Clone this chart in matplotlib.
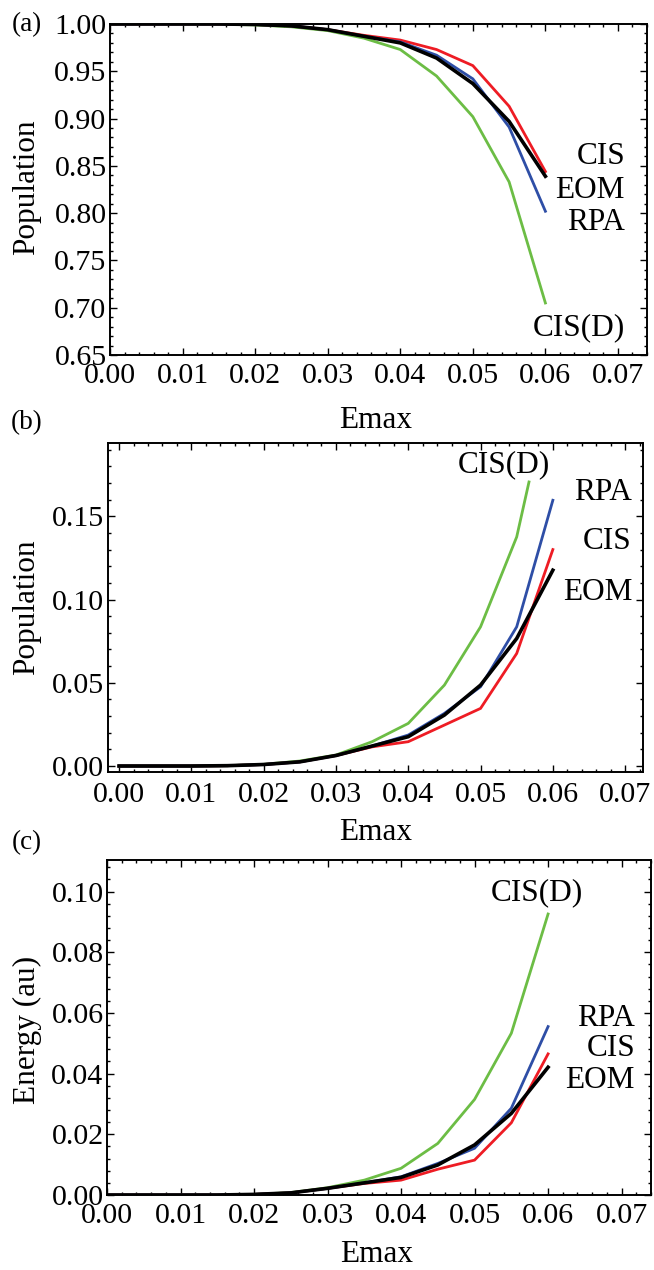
import numpy as np
import matplotlib.pyplot as plt
from matplotlib.ticker import MultipleLocator, FormatStrFormatter

plt.rcParams['font.family'] = ['Liberation Serif', 'DejaVu Serif']

# field amplitudes
emax = [0.0, 0.005, 0.01, 0.015, 0.02, 0.025, 0.03, 0.035, 0.04, 0.045, 0.05, 0.055, 0.06]
emax_cisd_b = [0.0, 0.005, 0.01, 0.015, 0.02, 0.025, 0.03, 0.035, 0.04, 0.045, 0.05, 0.055, 0.0567]

# (a) ground state population
cis_a = [1, 1, 1, 1, 0.9995, 0.998, 0.994, 0.988, 0.983, 0.973, 0.956, 0.913, 0.844]
eom_a = [1, 1, 1, 1, 0.9995, 0.998, 0.994, 0.987, 0.980, 0.964, 0.937, 0.897, 0.839]
rpa_a = [1, 1, 1, 1, 0.9995, 0.998, 0.994, 0.987, 0.981, 0.967, 0.942, 0.891, 0.802]
cisd_a = [1, 1, 1, 0.9998, 0.999, 0.997, 0.993, 0.985, 0.973, 0.945, 0.902, 0.833, 0.705]

# (b) excited state population
cis_b = [0, 0, 0, 0.0002, 0.0009, 0.0025, 0.0063, 0.0115, 0.0146, 0.0246, 0.0346, 0.0676, 0.130]
eom_b = [0, 0, 0, 0.0002, 0.0009, 0.0025, 0.0063, 0.0120, 0.0176, 0.0306, 0.0486, 0.0766, 0.1176]
rpa_b = [0, 0, 0, 0.0002, 0.0009, 0.0025, 0.0063, 0.0120, 0.0186, 0.0316, 0.0476, 0.0836, 0.1596]
cisd_b = [0, 0, 0, 0.0002, 0.0010, 0.0030, 0.0066, 0.0146, 0.0256, 0.0486, 0.0836, 0.1376, 0.1706]

# (c) absorbed energy
cis_c = [0, 0, 0, 0, 0.0002, 0.0007, 0.0022, 0.0038, 0.0049, 0.0085, 0.0115, 0.0238, 0.0465]
eom_c = [0, 0, 0, 0, 0.0002, 0.0007, 0.0022, 0.0040, 0.0058, 0.0099, 0.0165, 0.0269, 0.0421]
rpa_c = [0, 0, 0, 0, 0.0002, 0.0007, 0.0022, 0.0040, 0.0060, 0.0104, 0.0154, 0.0286, 0.0555]
cisd_c = [0, 0, 0, 0, 0.0002, 0.0008, 0.0024, 0.0049, 0.0088, 0.0170, 0.0315, 0.0533, 0.0926]

RED = '#ee1c24'
BLUE = '#2e4ea6'
GREEN = '#6cbd45'
BLACK = '#000000'

W, H = 654, 1270
fig = plt.figure(figsize=(W / 100, H / 100), dpi=100)


def px_axes(left, top, right, bottom):
    return fig.add_axes([left / W, 1 - bottom / H, (right - left) / W, (bottom - top) / H])


def ftext(x, y, s, **kw):
    fig.text(x / W, 1 - y / H, s, **kw)


def style(ax, xlim, ylim, ymajor, yminor, xpad):
    ax.set_xlim(*xlim)
    ax.set_ylim(*ylim)
    ax.xaxis.set_major_locator(MultipleLocator(0.01))
    ax.xaxis.set_minor_locator(MultipleLocator(0.002))
    ax.yaxis.set_major_locator(MultipleLocator(ymajor))
    ax.yaxis.set_minor_locator(MultipleLocator(yminor))
    ax.xaxis.set_major_formatter(FormatStrFormatter('%.2f'))
    ax.yaxis.set_major_formatter(FormatStrFormatter('%.2f'))
    ax.tick_params(which='both', direction='in', top=True, right=True, width=1.0)
    ax.tick_params(which='major', length=5, labelsize=21.5)
    ax.tick_params(which='minor', length=2.5)
    ax.tick_params(axis='x', pad=xpad)
    ax.tick_params(axis='y', pad=2.5)
    for sp in ax.spines.values():
        sp.set_linewidth(1.4)


def curves(ax, series):
    for xs, ys, c, lw in series:
        ax.plot(xs, ys, color=c, lw=lw, solid_joinstyle='miter')


lab = dict(fontsize=22.5, ha='right', va='center')
axlab = dict(fontsize=22.5, ha='center', va='center')

# (a)
ax = px_axes(110, 24, 647, 355)
style(ax, (0, 0.074), (0.65, 1.0), 0.05, 0.01, 6)
curves(ax, [(emax, cisd_a, GREEN, 2.0), (emax, cis_a, RED, 2.0),
            (emax, rpa_a, BLUE, 2.0), (emax, eom_a, BLACK, 2.6)])
ftext(27, 25, '(a)', fontsize=19.5, ha='center', va='center')
ftext(27, 187, 'Population', rotation=90, **axlab)
ftext(376, 420, 'Emax', **axlab)
ftext(625, 157, 'CIS', **lab)
ftext(625, 190, 'EOM', **lab)
ftext(625, 222, 'RPA', **lab)
ftext(625, 328, 'CIS(D)', **lab)

# (b)
ax = px_axes(107.5, 443, 642.5, 772)
style(ax, (-0.0016, 0.0724), (-0.0036, 0.194), 0.05, 0.01, 7)
curves(ax, [(emax_cisd_b, cisd_b, GREEN, 2.0), (emax, cis_b, RED, 2.0),
            (emax, rpa_b, BLUE, 2.0), (emax, eom_b, BLACK, 2.6)])
ftext(27, 423, '(b)', fontsize=19.5, ha='center', va='center')
ftext(27, 607, 'Population', rotation=90, **axlab)
ftext(376, 833, 'Emax', **axlab)
ftext(550, 465, 'CIS(D)', **lab)
ftext(632, 493, 'RPA', **lab)
ftext(632, 542, 'CIS', **lab)
ftext(632, 593, 'EOM', **lab)

# (c)
ax = px_axes(107, 860, 651, 1195)
style(ax, (0, 0.074), (0, 0.1104), 0.02, 0.004, 6)
curves(ax, [(emax, cisd_c, GREEN, 2.0), (emax, cis_c, RED, 2.0),
            (emax, rpa_c, BLUE, 2.0), (emax, eom_c, BLACK, 2.6)])
ftext(27, 843, '(c)', fontsize=19.5, ha='center', va='center')
ftext(27, 1030, 'Energy (au)', rotation=90, **axlab)
ftext(377, 1255, 'Emax', **axlab)
ftext(583, 893, 'CIS(D)', **lab)
ftext(635, 1018, 'RPA', **lab)
ftext(635, 1048, 'CIS', **lab)
ftext(635, 1080, 'EOM', **lab)

fig.savefig('out.png', dpi=100)
